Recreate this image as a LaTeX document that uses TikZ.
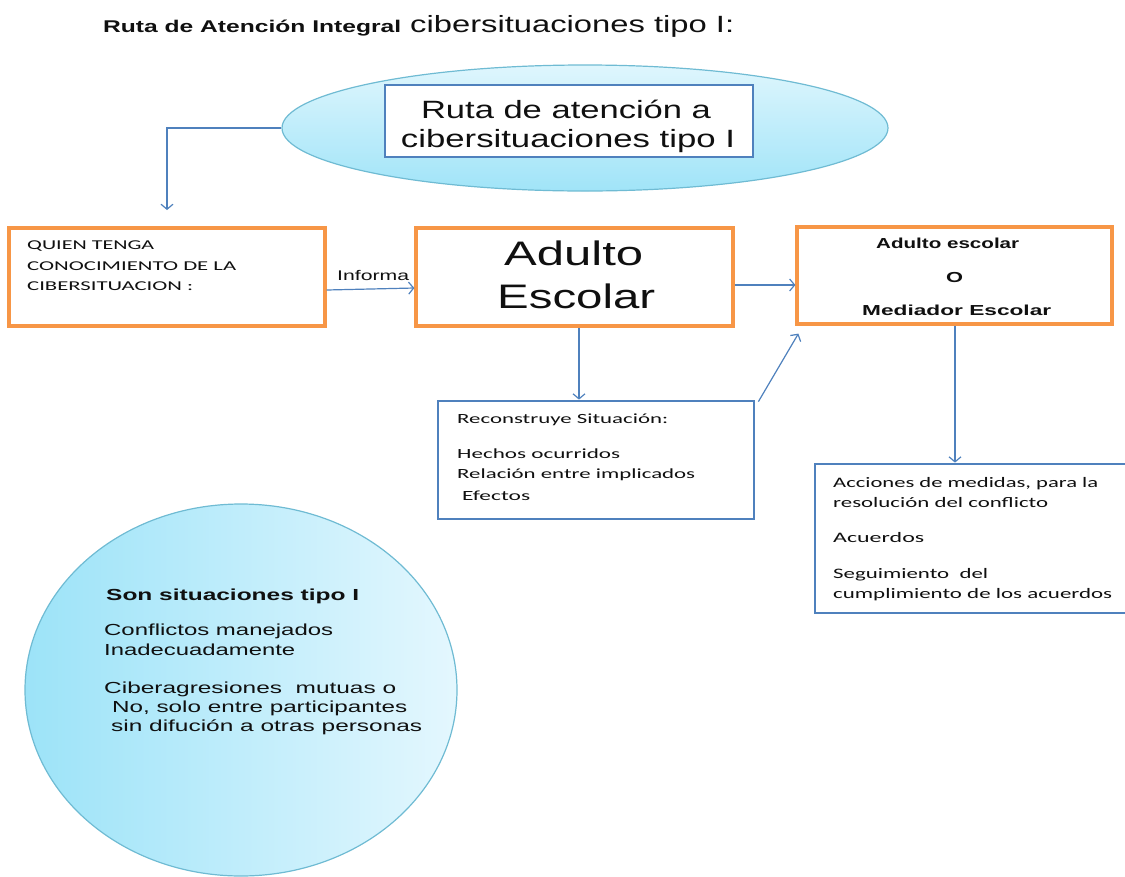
\documentclass[tikz,border=0pt]{standalone}
\usepackage{fontspec}
\setmainfont{Liberation Sans}
\newfontfamily\calfont{Carlito}
\usetikzlibrary{shapes.geometric,arrows.meta,calc}
\definecolor{orng}{HTML}{F79646}
\definecolor{blu}{HTML}{4F81BD}
\definecolor{txtc}{HTML}{101010}
\definecolor{elTop}{HTML}{DFF6FD}
\definecolor{elBot}{HTML}{A0E4F8}
\definecolor{elLine}{HTML}{6FBBD3}
\definecolor{ciL}{HTML}{9CE3F8}
\definecolor{ciR}{HTML}{E4F7FE}
\newcommand{\fitw}[2]{\resizebox{#1pt}{\height}{#2}}
\newcommand{\fs}[1]{\fontsize{#1}{#1}\selectfont}
\tikzset{
  tx/.style={anchor=base west, inner sep=0pt, text=txtc},
  txc/.style={anchor=base, inner sep=0pt, text=txtc},
  obox/.style={draw=orng, line width=3.2pt, fill=white, rectangle, inner sep=0pt},
  bbox/.style={draw=blu, line width=2.8pt, fill=white, rectangle, inner sep=0pt},
  conn/.style={draw=blu, line width=1.2pt, -{Straight Barb[length=5pt,width=12pt]}},
}
\begin{document}
\begin{tikzpicture}[x=1pt,y=-1pt]
\useasboundingbox (0,0) rectangle (1125,876);

% title
\node[tx] (t1) at (103,32) {\fs{17}\bfseries\fitw{298}{Ruta de Atención Integral}};
\node[tx] (t2) at (410,32) {\fs{23.5}\fitw{324}{cibersituaciones tipo I:}};

% top ellipse
\node[ellipse, draw=elLine, line width=1.2pt, top color=elTop, bottom color=elBot,
      minimum width=606, minimum height=126, inner sep=0pt] (ell) at (585,128) {};
\node[bbox, minimum width=368, minimum height=72] (ibox) at (569,121) {};
\node[txc] (i1) at (566,118) {\fs{25}\fitw{290}{Ruta de atención a}};
\node[txc] (i2) at (568,147) {\fs{25}\fitw{334}{cibersituaciones tipo I}};

% boxes
\node[obox, minimum width=316, minimum height=98] (quien) at (167,277) {};
\node[obox, minimum width=317, minimum height=98] (adulto) at (574.5,277) {};
\node[obox, minimum width=315, minimum height=97] (medi) at (954.5,275.5) {};
\node[bbox, minimum width=316, minimum height=118] (recon) at (596,460) {};
\node[bbox, minimum width=315, minimum height=149] (acc) at (972.5,538.5) {};

% circle
\node[ellipse, draw=elLine, line width=1.2pt, left color=ciL, right color=ciR,
      minimum width=432, minimum height=372, inner sep=0pt] (circ) at (241,690) {};

% quien text
\node[tx] (q1) at (27,249) {\calfont\fs{13.5}\fitw{127}{QUIEN TENGA}};
\node[tx] (q2) at (27,270) {\calfont\fs{13.5}\fitw{209}{CONOCIMIENTO DE LA}};
\node[tx] (q3) at (27,290) {\calfont\fs{13.5}\fitw{166}{CIBERSITUACION :}};

% adulto text
\node[tx] (a1) at (504,265) {\fs{34}\fitw{139}{Adulto}};
\node[tx] (a2) at (497,308) {\fs{34}\fitw{158}{Escolar}};

% mediador text
\node[tx] (m1) at (876,248) {\fs{14.5}\bfseries\fitw{143}{Adulto escolar}};
\node[tx] (m2) at (946,282) {\fs{14.5}\bfseries\fitw{17}{O}};
\node[tx] (m3) at (862,315) {\fs{14.5}\bfseries\fitw{189}{Mediador Escolar}};

% reconstruye text
\node[tx] (r1) at (457,423) {\calfont\fs{14}\fitw{211}{Reconstruye Situación:}};
\node[tx] (r2) at (457,458) {\calfont\fs{14}\fitw{163}{Hechos ocurridos}};
\node[tx] (r3) at (457,478) {\calfont\fs{14}\fitw{238}{Relación entre implicados}};
\node[tx] (r4) at (462,500) {\calfont\fs{14}\fitw{68}{Efectos}};

% acciones text
\node[tx] (c1) at (833,487) {\calfont\fs{14.5}\fitw{265}{Acciones de medidas, para la}};
\node[tx] (c2) at (833,507) {\calfont\fs{14.5}\fitw{215}{resolución del conflicto}};
\node[tx] (c3) at (833,542) {\calfont\fs{14.5}\fitw{91}{Acuerdos}};
\node[tx] (c4) at (833,578) {\calfont\fs{14.5}\fitw{155}{Seguimiento\ \ del}};
\node[tx] (c5) at (833,598) {\calfont\fs{14.5}\fitw{279}{cumplimiento de los acuerdos}};

% circle text
\node[tx] (s1) at (106,600) {\fs{16}\bfseries\fitw{253}{Son situaciones tipo I}};
\node[tx] (s2) at (104,635) {\fs{16}\fitw{229}{Conflictos manejados}};
\node[tx] (s3) at (104,655) {\fs{16}\fitw{191}{Inadecuadamente}};
\node[tx] (s4) at (104,693) {\fs{16}\fitw{292}{Ciberagresiones\ \ mutuas o}};
\node[tx] (s5) at (112,712) {\fs{16}\fitw{295}{No, solo entre participantes}};
\node[tx] (s6) at (111,731) {\fs{16}\fitw{311}{sin difución a otras personas}};

% connectors
\coordinate (e1) at (167,210);
\draw[conn] (ell.west) -| (e1);
\draw[conn] ($(quien.east)+(0,13)$) -- ($(adulto.west)+(0,11)$);
\node[tx] (informa) at (337,280) {\fs{14}\fitw{72}{Informa}};
\draw[conn] ($(adulto.east)+(0,8)$) -- ($(medi.west)+(0,9.5)$);
\draw[conn] ($(adulto.south)+(4.5,0)$) -- ($(recon.north)+(-17,0)$);
\draw[conn] ($(recon.north east)+(3,2)$) -- ($(medi.south west)+(3,8)$);
\draw[conn] ($(medi.south)+(0.5,0)$) -- ($(acc.north)+(-17.5,0)$);
\end{tikzpicture}
\end{document}
